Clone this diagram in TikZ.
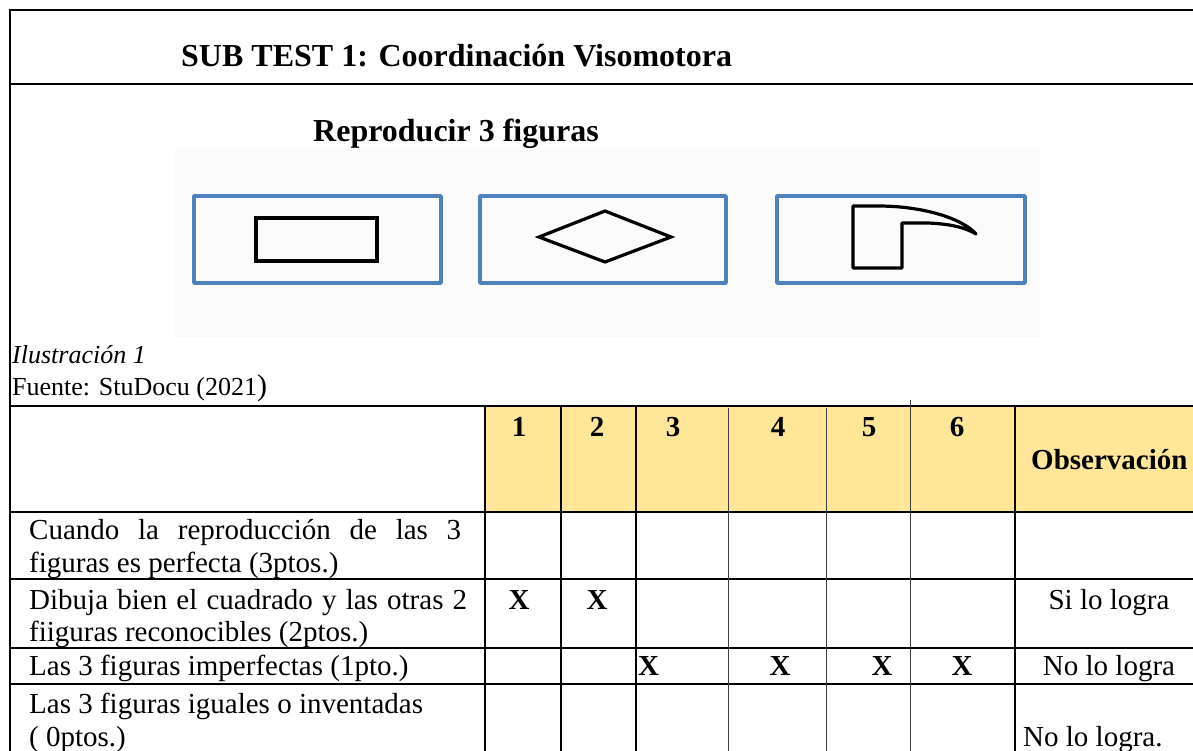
\documentclass[tikz,border=0pt]{standalone}
\usepackage{fontspec}
\setmainfont{Liberation Serif}
\definecolor{hdr}{RGB}{255,230,153}
\definecolor{figblue}{RGB}{79,129,189}
\definecolor{figbg}{RGB}{250,251,250}
\tikzset{
  frame/.style={line width=2.6pt, black},
  gridline/.style={line width=2.2pt, black},
  thinline/.style={line width=1pt, black!75},
  bluebox/.style={line width=3.5pt, figblue, line join=round},
  shapeline/.style={line width=3.2pt, black, line join=miter},
  titletext/.style={font=\fontsize{32}{36}\selectfont\bfseries, inner sep=0pt},
  captext/.style={font=\fontsize{26}{30}\selectfont, inner sep=0pt},
  celltext/.style={font=\fontsize{29}{33}\selectfont, inner sep=0pt},
  boldcell/.style={font=\fontsize{29}{33}\selectfont\bfseries, inner sep=0pt}
}
\begin{document}
\begin{tikzpicture}[x=1pt,y=-1pt]
\useasboundingbox (0,0) rectangle (1193,751);
\clip (0,0) rectangle (1193,751);
% header fill
\fill[hdr] (485,407) rectangle (1200,512);
% figure background
\fill[figbg] (174,149) rectangle (1040,338);
% outer frame
\draw[frame] (1200,10) -- (10,10) -- (10,760);
\draw[frame] (10,84) -- (1200,84);
% figures
\draw[bluebox] (194,196) rectangle (441,283);
\draw[bluebox] (480,196) rectangle (726,283);
\draw[bluebox] (777,196) rectangle (1025,283);
\draw[shapeline] (256,218) rectangle (377,261);
\draw[shapeline] (539,237) -- (605,211) -- (671,237) -- (605,262) -- cycle;
\draw[shapeline, line join=round] (853,206) -- (853,268) -- (902,268) -- (902,223) -- (928,223)
   .. controls (952,224) and (966,228) .. (976,234)
   .. controls (962,218) and (922,206) .. (878,206) -- cycle;
% table grid
\draw[gridline] (10,406) -- (1200,406);
\draw[gridline] (10,512) -- (1200,512);
\draw[gridline] (10,579) -- (1200,579);
\draw[gridline] (10,648) -- (1200,648);
\draw[gridline] (10,684) -- (1200,684);
\foreach \x in {485,561,636,1015} \draw[gridline] (\x,406) -- (\x,760);
\foreach \x in {728,826} \draw[thinline] (\x,408) -- (\x,760);
\draw[thinline] (910,400) -- (910,760);
% texts
\node[titletext, anchor=base west] (title) at (181,67) {SUB TEST 1: Coordinación Visomotora};
\node[titletext, anchor=base west] (subtitle) at (313,142) {Reproducir 3 figuras};
\node[captext, anchor=base west] (ilus) at (12,363) {\itshape Ilustración 1};
\node[captext, anchor=base west] (src) at (12,395) {Fuente: StuDocu (2021{\fontsize{30}{30}\selectfont)}};
% header
\node[boldcell, anchor=base] (h1) at (519,436) {1};
\node[boldcell, anchor=base] (h2) at (597,436) {2};
\node[boldcell, anchor=base] (h3) at (673,436) {3};
\node[boldcell, anchor=base] (h4) at (778,436) {4};
\node[boldcell, anchor=base] (h5) at (869,436) {5};
\node[boldcell, anchor=base] (h6) at (957,436) {6};
\node[boldcell, anchor=base west] (hobs) at (1031,469) {Observación};
% rows
\node[celltext, anchor=base west] (r1a) at (29,539) {\makebox[432pt][s]{Cuando la reproducción de las 3}};
\node[celltext, anchor=base west] (r1b) at (29,572) {figuras es perfecta (3ptos.)};
\node[celltext, anchor=base west] (r2a) at (29,609) {\makebox[438pt][s]{Dibuja bien el cuadrado y las otras 2}};
\node[celltext, anchor=base west] (r2b) at (29,641) {fiiguras reconocibles (2ptos.)};
\node[celltext, anchor=base west] (r3) at (29,675) {Las 3 figuras imperfectas (1pto.)};
\node[celltext, anchor=base west] (r4a) at (29,713) {Las 3 figuras iguales o inventadas};
\node[celltext, anchor=base west] (r4b) at (29,746) {( 0ptos.)};
% marks
\node[boldcell, anchor=base] (x21) at (519,609) {X};
\node[boldcell, anchor=base] (x22) at (597,609) {X};
\node[boldcell, anchor=base west] (x33) at (638,675) {X};
\node[boldcell, anchor=base] (x34) at (780,675) {X};
\node[boldcell, anchor=base] (x35) at (882,675) {X};
\node[boldcell, anchor=base] (x36) at (962,675) {X};
\node[celltext, anchor=base] (o2) at (1109,609) {Si lo logra};
\node[celltext, anchor=base] (o3) at (1109,675) {No lo logra};
\node[celltext, anchor=base west] (o4) at (1023,746) {No lo logra.};
\end{tikzpicture}
\end{document}
